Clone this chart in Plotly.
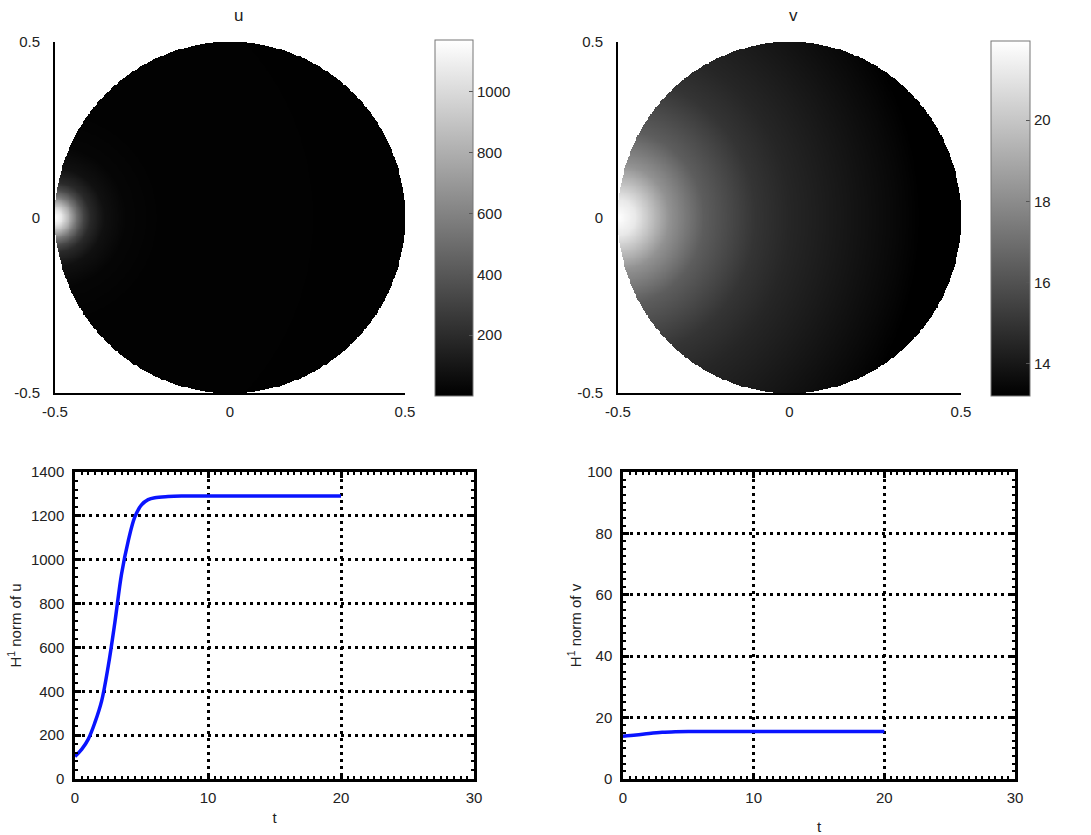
import numpy as np
import plotly.graph_objects as go

# ---------------- data ----------------
# radial profiles (distance from boundary point (-0.5, 0))
u_dist = [0.0, 0.02, 0.04, 0.06, 0.08, 0.10, 0.14, 0.20, 0.30, 1.00]
u_vals = [1170, 1060, 820, 540, 330, 190, 75, 25, 10, 5]

v_dist = [0.0, 0.05, 0.10, 0.15, 0.25, 0.40, 0.50, 0.65, 0.80, 0.88, 1.00]
v_vals = [21.95, 21.2, 19.7, 18.2, 16.4, 15.0, 14.5, 14.0, 13.5, 13.2, 13.2]

# H1 norm time series
t_u = [0, 0.5, 1, 1.5, 2, 2.5, 3, 3.5, 4, 4.5, 5, 5.5, 6, 7, 8, 10, 12, 14, 16, 18, 20]
h_u = [103, 135, 182, 258, 355, 515, 715, 935, 1085, 1195, 1250, 1274, 1283, 1288, 1290,
       1290, 1290, 1290, 1290, 1290, 1290]

t_v = [0, 1, 2, 3, 4, 5, 6, 8, 10, 12, 14, 16, 18, 20]
h_v = [13.9, 14.3, 14.8, 15.2, 15.4, 15.5, 15.5, 15.5, 15.5, 15.5, 15.5, 15.5, 15.5, 15.5]

ticks_xy = [-0.5, 0, 0.5]
u_cticks = [200, 400, 600, 800, 1000]
v_cticks = [14, 16, 18, 20]

# ---------------- build fields on the disk ----------------
g = np.linspace(-0.5, 0.5, 401)
X, Y = np.meshgrid(g, g)
D = np.sqrt((X + 0.5) ** 2 + Y ** 2)
inside = np.sqrt(X ** 2 + Y ** 2) <= 0.5
U = np.where(inside, np.interp(D, u_dist, u_vals), np.nan)
V = np.where(inside, np.interp(D, v_dist, v_vals), np.nan)

W, H = 1091, 835
def px(x0, x1):
    return [x0 / W, x1 / W]
def py(y0, y1):  # top, bottom in pixels
    return [1 - y1 / H, 1 - y0 / H]

gray = [[0, "black"], [1, "white"]]
font = dict(family="Liberation Sans, Arial, Helvetica, sans-serif", size=15, color="#222")

fig = go.Figure()

fig.add_trace(go.Heatmap(
    x=g, y=g, z=U, colorscale=gray, zmin=0, zmax=1170, xaxis="x", yaxis="y",
    hoverongaps=False,
    colorbar=dict(x=435 / W, xanchor="left", y=1 - 396 / H, yanchor="bottom",
                  len=356 / H, lenmode="fraction", thickness=38, thicknessmode="pixels",
                  outlinewidth=1, outlinecolor="#777", tickvals=u_cticks,
                  ticks="inside", ticklen=4, tickcolor="#555", tickfont=font,
                  xpad=0, ypad=0)))

fig.add_trace(go.Heatmap(
    x=g, y=g, z=V, colorscale=gray, zmin=13.2, zmax=21.95, xaxis="x2", yaxis="y2",
    hoverongaps=False,
    colorbar=dict(x=991 / W, xanchor="left", y=1 - 396 / H, yanchor="bottom",
                  len=355 / H, lenmode="fraction", thickness=39, thicknessmode="pixels",
                  outlinewidth=1, outlinecolor="#777", tickvals=v_cticks,
                  ticks="inside", ticklen=4, tickcolor="#555", tickfont=font,
                  xpad=0, ypad=0)))

fig.add_trace(go.Scatter(x=t_u, y=h_u, mode="lines", line=dict(color="#0a14ff", width=3.5, shape="spline"),
                         xaxis="x3", yaxis="y3", showlegend=False))
fig.add_trace(go.Scatter(x=t_v, y=h_v, mode="lines", line=dict(color="#0a14ff", width=3.5, shape="spline"),
                         xaxis="x4", yaxis="y4", showlegend=False))

def top_axes(dx, dy):
    xa = dict(domain=dx, range=[-0.5, 0.5], tickvals=ticks_xy, ticktext=["-0.5", "0", "0.5"],
              showline=True, linecolor="black", linewidth=2, ticks="", showgrid=False,
              zeroline=False, tickfont=font, ticklabelstandoff=4)
    ya = dict(domain=dy, range=[-0.5, 0.5], tickvals=ticks_xy, ticktext=["-0.5", "0", "0.5"],
              showline=True, linecolor="black", linewidth=2, ticks="", showgrid=False,
              zeroline=False, tickfont=font, ticklabelstandoff=10)
    return xa, ya

def bottom_axes(dx, dy, yr, ydt, yminor, ytitle, xstand, ystand):
    xa = dict(domain=dx, range=[0, 30], dtick=10, showline=True, linecolor="black", linewidth=2.5,
              mirror="allticks", ticks="inside", ticklen=6, tickwidth=2.5, tickcolor="black",
              showgrid=True, gridcolor="black", gridwidth=2.5, griddash="3px,4px",
              minor=dict(dtick=0.5, ticks="inside", ticklen=3, tickwidth=2, tickcolor="black", showgrid=False),
              zeroline=False, tickfont=font, ticklabelstandoff=3,
              title=dict(text="t", font=font, standoff=xstand))
    ya = dict(domain=dy, range=yr, dtick=ydt, showline=True, linecolor="black", linewidth=2.5,
              mirror="allticks", ticks="inside", ticklen=6, tickwidth=2.5, tickcolor="black",
              showgrid=True, gridcolor="black", gridwidth=2.5, griddash="3px,4px",
              minor=dict(dtick=yminor, ticks="inside", ticklen=3, tickwidth=2, tickcolor="black", showgrid=False),
              zeroline=False, tickfont=font, ticklabelstandoff=5,
              title=dict(text=ytitle, font=font, standoff=ystand))
    return xa, ya

x1, y1 = top_axes(px(55, 405), py(42, 393))
x2, y2 = top_axes(px(618, 961), py(42, 393))
x3, y3 = bottom_axes(px(75, 474), py(472, 779), [0, 1400], 200, 40, "H<sup>1</sup> norm of u", 8, 6)
x4, y4 = bottom_axes(px(623, 1015), py(472, 779), [0, 100], 20, 2.5, "H<sup>1</sup> norm of v", 22, 2)

x1["anchor"] = "y"; y1["anchor"] = "x"
x2["anchor"] = "y2"; y2["anchor"] = "x2"
x3["anchor"] = "y3"; y3["anchor"] = "x3"
x4["anchor"] = "y4"; y4["anchor"] = "x4"

fig.update_layout(
    width=W, height=H, margin=dict(l=0, r=0, t=0, b=0, autoexpand=False),
    paper_bgcolor="white", plot_bgcolor="white", font=font, showlegend=False,
    xaxis=x1, yaxis=y1, xaxis2=x2, yaxis2=y2, xaxis3=x3, yaxis3=y3, xaxis4=x4, yaxis4=y4,
    annotations=[
        dict(text="u", x=232 / W, y=1 - 15 / H, xref="paper", yref="paper", showarrow=False,
             font=dict(family=font["family"], size=17, color="#222"), yanchor="middle"),
        dict(text="v", x=800 / W, y=1 - 15 / H, xref="paper", yref="paper", showarrow=False,
             font=dict(family=font["family"], size=17, color="#222"), yanchor="middle"),
    ],
)

fig.write_html("out.html", config={"displayModeBar": False},
               post_script="document.body.style.margin='0';document.body.style.overflow='hidden';")
